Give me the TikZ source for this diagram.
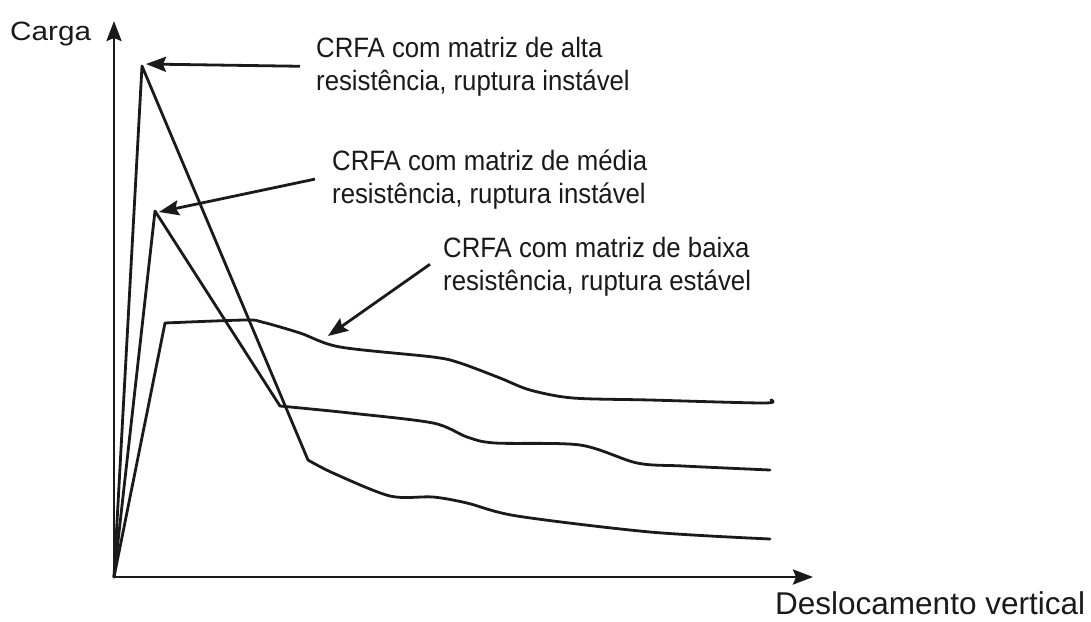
\documentclass[tikz,border=0pt]{standalone}
\usepackage{fontspec}
\setmainfont{Liberation Sans}
\newfontfamily\narrowfont[FakeStretch=0.92]{Liberation Sans}
\newfontfamily\widefont[FakeStretch=1.12]{Liberation Sans}
\usetikzlibrary{arrows.meta,calc}
\definecolor{ink}{HTML}{1A1A1A}
\tikzset{
  curve/.style={draw=ink,line width=2.8pt,line join=round,line cap=round},
  axis/.style={draw=ink,line width=2.8pt,-{Stealth[length=20pt,width=15pt,inset=3pt]}},
  pointer/.style={draw=ink,line width=2.8pt,-{Stealth[length=20pt,width=15pt,inset=3pt]}},
  lbl/.style={text=ink,inner sep=0pt,align=left,font=\narrowfont\fontsize{28}{33}\selectfont},
}
\begin{document}
\begin{tikzpicture}[x=1pt,y=-1pt]
\useasboundingbox (0,0) rectangle (1091,621);
\coordinate (O) at (114,577);
\coordinate (ytop) at (114,21);
\coordinate (xend) at (813,577);
\draw[axis] (O) -- (ytop);
\draw[axis] (O) -- (xend);
\node[lbl,anchor=base west,font=\widefont\fontsize{26.5}{30}\selectfont] (ylab) at (10,40) {Carga};
\node[lbl,anchor=base west,font=\fontsize{31.5}{36}\selectfont] (xlab) at (775,614) {Deslocamento vertical};
% peaks
\coordinate (p1) at (142,66);
\coordinate (p2) at (155,211);
\coordinate (p3) at (165,323);
% high-strength matrix
\draw[curve] (O) -- (p1) -- (308,460) -- plot[smooth,tension=0.5] coordinates {(308,460) (333,473) (390,496) (433,497) (467,503) (517,516) (650,532) (770,539)};
% medium-strength matrix
\draw[curve] (O) -- (p2) -- (280,406) -- plot[smooth,tension=0.5] coordinates {(280,406) (350,413) (433,423) (467,437) (495,443) (580,445) (637,463) (683,466) (770,470)};
% low-strength matrix
\draw[curve] (O) -- (p3) -- plot[smooth,tension=0.5] coordinates {(165,323) (245,320) (262,322) (300,333) (340,347) (433,357) (460,363) (500,378) (530,390) (573,398) (650,400) (763,403) (771,400)};
% labels (base anchor = baseline of the last line)
\node[lbl,anchor=base west] (t1) at (316,90) {CRFA com matriz de alta\\resistência, ruptura instável};
\node[lbl,anchor=base west] (t2) at (332,203) {CRFA com matriz de média\\resistência, ruptura instável};
\node[lbl,anchor=base west] (t3) at (443,290) {CRFA com matriz de baixa\\resistência, ruptura estável};
\coordinate (a1) at (146,64);
\coordinate (a2) at (159,212);
\coordinate (a3) at (328,336);
\draw[pointer] ($(t1.west)+(-16,0)$) -- (a1);
\draw[pointer] ($(t2.west)+(-17,0)$) -- (a2);
\draw[pointer] ($(t3.west)+(-13,-2)$) -- (a3);
\end{tikzpicture}
\end{document}
